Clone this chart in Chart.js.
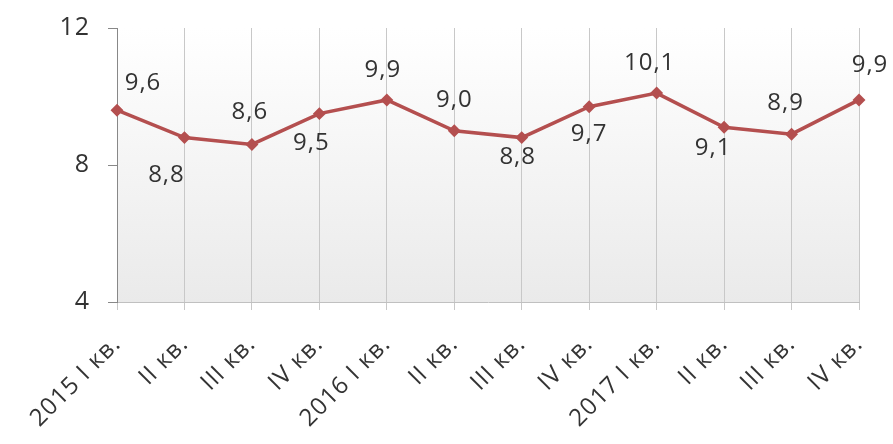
<!DOCTYPE html>
<html>
<head>
<meta charset="utf-8">
<script src="https://cdn.jsdelivr.net/npm/chart.js@4/dist/chart.umd.min.js"></script>
<style>
  html, body { margin: 0; padding: 0; background: #fff; }
  #wrap { width: 893px; height: 444px; }
</style>
</head>
<body>
<div id="wrap"><canvas id="rateChart" width="893" height="444"></canvas></div>
<script>
const quarters = [
  "2015 I кв.", "II кв.", "III кв.", "IV кв.",
  "2016 I кв.", "II кв.", "III кв.", "IV кв.",
  "2017 I кв.", "II кв.", "III кв.", "IV кв.",
];
const rateValues = [9.6, 8.8, 8.6, 9.5, 9.9, 9.0, 8.8, 9.7, 10.1, 9.1, 8.9, 9.9];
const yTicks = [4, 8, 12];

// where each value label sits relative to its point (Excel-like placement)
const labelOffsets = [
  [26, -27], [-18, 38], [-2, -32], [-8, 30], [-4, -30], [0, -31],
  [-4, 20], [0, 27], [-7, -30], [-11, 21], [-6, -31], [11, -35],
];

const fontFamily = "'Open Sans', 'Noto Sans', sans-serif";

// the reference text is a little wide, so space the letters out a bit
const letterSpacing = {
  id: "letterSpacing",
  beforeLayout(chart) { chart.ctx.letterSpacing = "1px"; },
  beforeDraw(chart) { chart.ctx.letterSpacing = "1px"; },
};

const plotBackground = {
  id: "plotBackground",
  beforeDraw(chart) {
    const { ctx, chartArea } = chart;
    const grad = ctx.createLinearGradient(0, chartArea.top, 0, chartArea.bottom);
    grad.addColorStop(0, "#ffffff");
    grad.addColorStop(1, "#eaeaea");
    ctx.save();
    ctx.fillStyle = grad;
    ctx.fillRect(chartArea.left, chartArea.top, chartArea.right - chartArea.left, chartArea.bottom - chartArea.top);
    ctx.restore();
  },
};

const valueLabels = {
  id: "valueLabels",
  afterDatasetsDraw(chart) {
    const { ctx } = chart;
    const meta = chart.getDatasetMeta(0);
    ctx.save();
    ctx.font = "24px " + fontFamily;
    ctx.fillStyle = "#333333";
    ctx.textAlign = "center";
    ctx.textBaseline = "middle";
    meta.data.forEach((pt, i) => {
      const text = rateValues[i].toFixed(1).replace(".", ",");
      const [dx, dy] = labelOffsets[i];
      ctx.fillText(text, pt.x + dx, pt.y + dy);
    });
    ctx.restore();
  },
};

const ctx = document.getElementById("rateChart").getContext("2d");
new Chart(ctx, {
  type: "line",
  data: {
    labels: quarters,
    datasets: [
      {
        data: rateValues,
        borderColor: "#b44f4f",
        backgroundColor: "#b44f4f",
        borderWidth: 3.5,
        pointStyle: "rectRot",
        pointRadius: 4,
        pointHoverRadius: 4,
        tension: 0,
        fill: false,
      },
    ],
  },
  options: {
    responsive: false,
    animation: false,
    layout: { padding: { top: 28, right: 34, left: 0, bottom: 0 } },
    plugins: {
      legend: { display: false },
      tooltip: { enabled: false },
    },
    scales: {
      x: {
        offset: false,
        grid: {
          display: true,
          color: "#c8c8c8",
          lineWidth: 1,
          drawTicks: true,
          tickLength: 8,
        },
        border: { display: true, color: "#c0c0c0" },
        ticks: {
          minRotation: 45,
          maxRotation: 45,
          color: "#333333",
          padding: 20,
          font: { size: 24, family: fontFamily },
        },
        afterFit(scale) {
          scale.height = 142;
          scale.paddingLeft = 0;
          scale.paddingRight = 0;
        },
      },
      y: {
        min: 4,
        max: 12,
        afterBuildTicks(scale) {
          scale.ticks = yTicks.map((v) => ({ value: v }));
        },
        grid: {
          drawOnChartArea: false,
          drawTicks: true,
          tickLength: 9,
          color: "#888888",
        },
        border: { display: true, color: "#888888" },
        ticks: {
          color: "#333333",
          padding: 18,
          font: { size: 25, family: fontFamily },
        },
        afterFit(scale) {
          scale.width = 117;
          scale.paddingTop = 0;
          scale.paddingBottom = 0;
        },
      },
    },
  },
  plugins: [letterSpacing, plotBackground, valueLabels],
});
</script>
</body>
</html>
